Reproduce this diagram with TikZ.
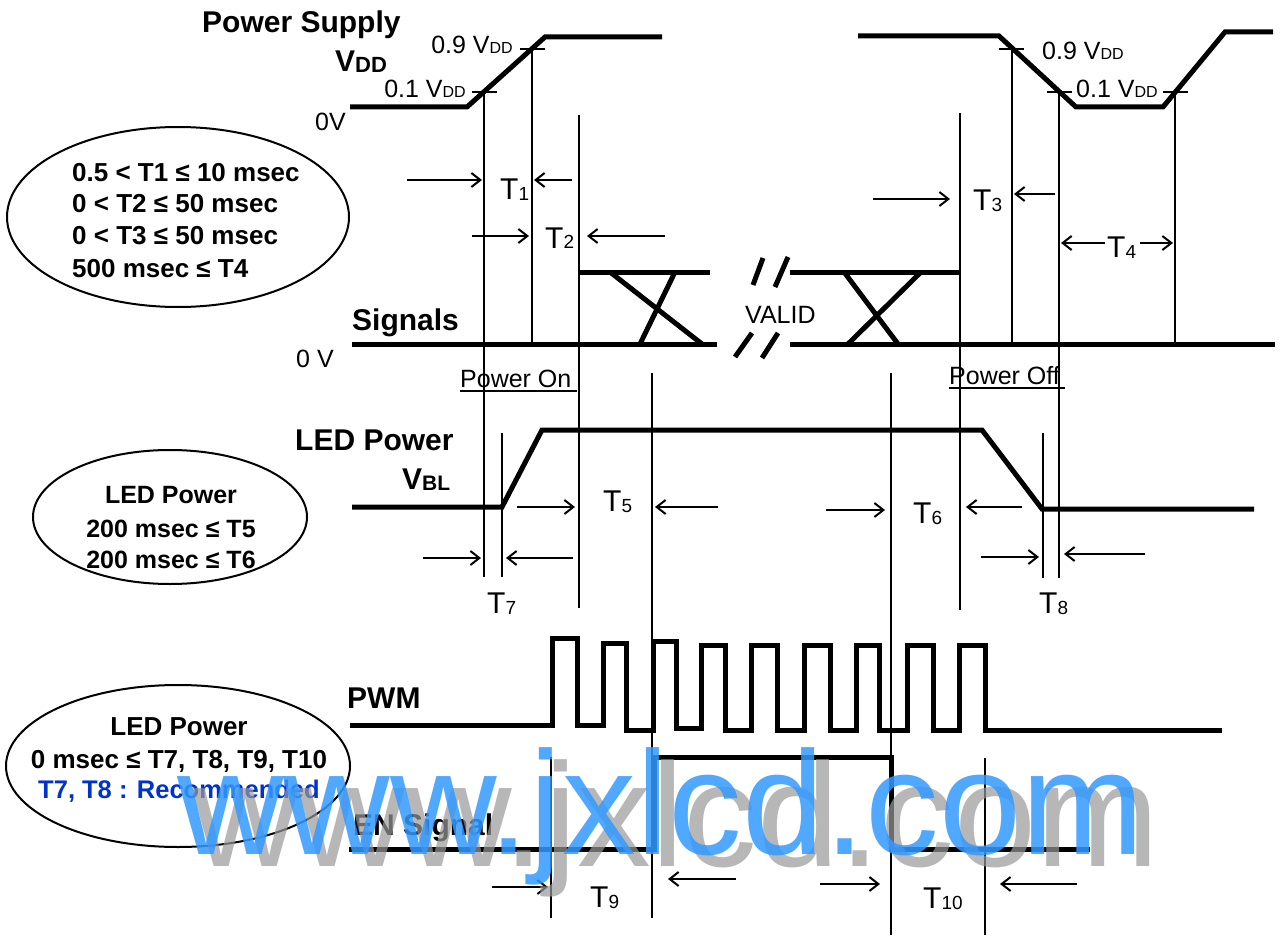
\documentclass[tikz,border=0pt]{standalone}
\usepackage{fontspec}
\setmainfont{Liberation Sans}
\usetikzlibrary{arrows.meta}
\newcommand\fs[2]{{\fontsize{#1}{#1}\selectfont #2}}
\newcommand\Tl[1]{T\raisebox{-1pt}{\fs{19}{#1}}}
\newcommand\lv[1]{#1 V\fs{16}{DD}}
\definecolor{wmblue}{HTML}{3399FF}
\definecolor{wmgray}{HTML}{999999}
\definecolor{recblue}{HTML}{0033CC}
\begin{document}
\begin{tikzpicture}[x=1pt,y=-1pt,
  wave/.style={line width=5pt, line join=miter},
  vline/.style={line width=2.4pt},
  tickmark/.style={line width=2.4pt},
  dimarrow/.style={line width=2pt,-{Straight Barb[length=9pt,width=14pt,line width=2pt]}},
  txt/.style={inner sep=0pt, anchor=base west},
  title/.style={txt, font=\fontsize{30}{30}\selectfont\bfseries},
  lvl/.style={txt, font=\fontsize{25}{25}\selectfont},
  tlab/.style={txt, font=\fontsize{30}{30}\selectfont},
  note/.style={txt, font=\fontsize{26}{26}\selectfont\bfseries},
  notec/.style={inner sep=0pt, anchor=base, font=\fontsize{26}{26}\selectfont\bfseries},
  oval/.style={line width=2pt},
]
\useasboundingbox (0,0) rectangle (1288,936);
\fill[white] (0,0) rectangle (1288,936);

% ---------- Power supply ----------
\draw[wave] (350,107) -- (467,107) -- (545,37) -- (662,37);
\draw[wave] (858,36) -- (999,36) -- (1076,107) -- (1163,107) -- (1225,32) -- (1273,32);
\draw[tickmark] (520,49) -- (545,49);
\draw[tickmark] (472,92) -- (497,92);
\draw[tickmark] (999,49) -- (1024,49);
\draw[tickmark] (1047,92) -- (1072,92);
\draw[tickmark] (1163,92) -- (1188,92);

% ---------- vertical timing lines ----------
\draw[vline] (484,92) -- (484,577);
\draw[vline] (532,49) -- (532,343);
\draw[vline] (579,115) -- (579,608);
\draw[vline] (652,373) -- (652,918);
\draw[vline] (891,373) -- (891,935);
\draw[vline] (960,113) -- (960,610);
\draw[vline] (1012,49) -- (1012,343);
\draw[vline] (1059,92) -- (1059,578);
\draw[vline] (1175,92) -- (1175,343);
\draw[vline] (502,433) -- (502,577);
\draw[vline] (1043,433) -- (1043,578);
\draw[vline] (551,757) -- (551,918);
\draw[vline] (985,758) -- (985,935);

% ---------- Signals ----------
\draw[wave] (352,344) -- (717,344);
\draw[wave] (579,272) -- (710,272);
\draw[wave] (610,272) -- (702,344);
\draw[wave] (675,272) -- (640,344);
\draw[wave] (790,272) -- (960,272);
\draw[wave] (790,344) -- (1275,344);
\draw[wave] (844,272) -- (898,344);
\draw[wave] (921,272) -- (848,344);
\draw[wave] (753,285) -- (763,258);
\draw[wave] (775,287) -- (788,257);
\draw[wave] (735,357) -- (752,333);
\draw[wave] (762,358) -- (778,333);

% ---------- LED power ----------
\draw[wave] (352,507) -- (502,507) -- (542,430) -- (982,430) -- (1042,509) -- (1254,509);

% ---------- PWM ----------
\draw[wave] (350,725) -- (552,725) -- (552,638) -- (577,638) -- (577,725) -- (603,725)
  -- (603,643) -- (626,643) -- (626,730) -- (653,730) -- (653,641) -- (676,641)
  -- (676,728) -- (701,728) -- (701,645) -- (725,645) -- (725,730) -- (751,730)
  -- (751,645) -- (777,645) -- (777,730) -- (804,730) -- (804,645) -- (830,645)
  -- (830,730) -- (856,730) -- (856,645) -- (879,645) -- (879,730) -- (907,730)
  -- (907,645) -- (933,645) -- (933,730) -- (959,730) -- (959,645) -- (985,645)
  -- (985,730) -- (1222,730);

% ---------- EN ----------
\draw[wave] (349,849) -- (654,849) -- (654,757) -- (891,757) -- (891,849) -- (1090,849);

% ---------- dimension arrows ----------
\draw[dimarrow] (407,180) -- (482,180);
\draw[dimarrow] (572,180) -- (534,180);
\draw[dimarrow] (472,236) -- (529,236);
\draw[dimarrow] (665,236) -- (587,236);
\draw[dimarrow] (873,199) -- (950,199);
\draw[dimarrow] (1055,194) -- (1014,194);
\draw[dimarrow] (1105,243) -- (1061,243);
\draw[dimarrow] (1140,243) -- (1173,243);
\draw[dimarrow] (517,507) -- (575,507);
\draw[dimarrow] (718,507) -- (655,507);
\draw[dimarrow] (826,510) -- (885,510);
\draw[dimarrow] (1022,507) -- (966,507);
\draw[dimarrow] (423,558) -- (481,558);
\draw[dimarrow] (573,558) -- (506,558);
\draw[dimarrow] (981,557) -- (1039,557);
\draw[dimarrow] (1145,554) -- (1064,554);
\draw[dimarrow] (492,887) -- (548,887);
\draw[dimarrow] (736,879) -- (668,879);
\draw[dimarrow] (820,884) -- (880,884);
\draw[dimarrow] (1077,884) -- (1000,884);

% ---------- labels ----------
\node[title] (ps) at (202,33) {Power Supply};
\node[txt, font=\fontsize{30}{30}\selectfont\bfseries] (vdd) at (335,72) {V\raisebox{-1pt}{\fs{22}{DD}}};
\node[lvl, anchor=base east] (l09a) at (513,54) {\lv{0.9}};
\node[lvl, anchor=base east] (l01a) at (466,98) {\lv{0.1}};
\node[lvl] (zv) at (315,131) {0V};
\node[lvl] (l09b) at (1042,60) {\lv{0.9}};
\node[lvl] (l01b) at (1076,98) {\lv{0.1}};

\node[tlab] (tt1) at (500,200) {\Tl{1}};
\node[tlab] (tt2) at (545,248) {\Tl{2}};
\node[tlab] (tt3) at (973,211) {\Tl{3}};
\node[tlab] (tt4) at (1107,258) {\Tl{4}};
\node[tlab] (tt5) at (603,511) {\Tl{5}};
\node[tlab] (tt6) at (913,523) {\Tl{6}};
\node[tlab] (tt7) at (487,613) {\Tl{7}};
\node[tlab] (tt8) at (1039,613) {\Tl{8}};
\node[tlab] (tt9) at (590,907) {\Tl{9}};
\node[tlab] (tt10) at (923,908) {\Tl{10}};

\node[title] (sig) at (352,330) {Signals};
\node[lvl] (zv2) at (296,367) {0 V};
\node[txt, font=\fontsize{25}{25}\selectfont] (valid) at (745,323) {VALID};
\node[txt, font=\fontsize{25}{25}\selectfont] (pon) at (460,387) {Power On};
\draw[line width=1.5pt] (460,391) -- (577,391);
\node[txt, font=\fontsize{25}{25}\selectfont] (poff) at (949,384) {Power Off};
\draw[line width=1.5pt] (949,388) -- (1065,388);

\node[title] (ledp) at (295,450) {LED Power};
\node[txt, font=\fontsize{30}{30}\selectfont\bfseries] (vbl) at (402,489) {V\raisebox{-1pt}{\fs{21}{BL}}};
\node[title] (pwm) at (347,708) {PWM};
\node[title] (en) at (353,835) {EN Signal};

% ---------- notes ----------
\draw[oval] (178,217) ellipse [x radius=171pt, y radius=90pt];
\node[note] (n1) at (72,182) {0.5 < T1 ≤ 10 msec};
\node[note] (n2) at (72,213) {0 < T2 ≤ 50 msec};
\node[note] (n3) at (72,245) {0 < T3 ≤ 50 msec};
\node[note] (n4) at (72,277) {500 msec ≤ T4};

\draw[oval] (170,517) ellipse [x radius=137pt, y radius=67pt];
\node[notec, font=\fontsize{25}{25}\selectfont\bfseries] (m1) at (171,503) {LED Power};
\node[notec, font=\fontsize{25}{25}\selectfont\bfseries] (m2) at (171,537) {200 msec ≤ T5};
\node[notec, font=\fontsize{25}{25}\selectfont\bfseries] (m3) at (171,568) {200 msec ≤ T6};

\draw[oval] (178,766) ellipse [x radius=172pt, y radius=81pt];
\node[notec] (k1) at (179,735) {LED Power};
\node[notec] (k2) at (179,768) {0 msec ≤ T7, T8, T9, T10};
\node[notec, text=recblue, font=\fontsize{25.5}{25.5}\selectfont\bfseries] (k3) at (179,798) {T7, T8 : Recommended};

% ---------- watermark ----------
\node[txt, font=\fontsize{147.5}{147.5}\selectfont, text=wmgray, text opacity=0.7] (wmg) at (192,866) {www.jxlcd.com};
\node[txt, font=\fontsize{147.5}{147.5}\selectfont, text=wmblue, text opacity=0.85] (wmb) at (177,854) {www.jxlcd.com};
\end{tikzpicture}
\end{document}
